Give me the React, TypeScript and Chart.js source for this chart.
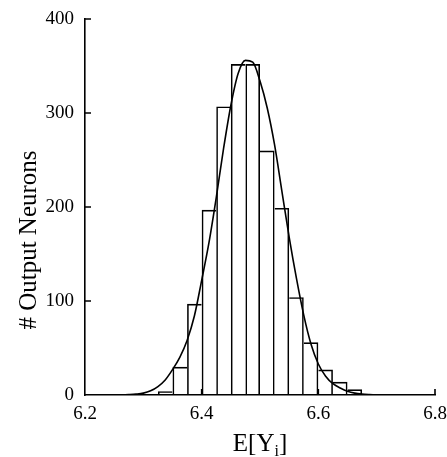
import React, { useEffect, useRef } from "react";
import { Chart, registerables } from "chart.js";

Chart.register(...registerables);

// Histogram bins (left edges, width 0.025) and counts
const binWidth = 0.025;
const binEdges = [6.325, 6.35, 6.375, 6.4, 6.425, 6.45, 6.475, 6.5, 6.525, 6.55, 6.575, 6.6, 6.625, 6.65, 6.675, 6.7, 6.725];
const binCounts = [4, 30, 97, 197, 307, 352, 352, 260, 199, 104, 56, 27, 14, 6, 0, 1, 1];

// Fitted curve
const curveX = [6.2, 6.2125, 6.225, 6.2375, 6.25, 6.2625, 6.275, 6.2875, 6.3, 6.3125, 6.325, 6.3375, 6.35, 6.3625, 6.375, 6.3875, 6.4, 6.4125, 6.425, 6.4375, 6.45, 6.4625, 6.475, 6.4875, 6.5, 6.5125, 6.525, 6.5375, 6.55, 6.5625, 6.575, 6.5875, 6.6, 6.6125, 6.625, 6.6375, 6.65, 6.6625, 6.675, 6.6875, 6.7, 6.725, 6.75];
const curveY = [0, 0, 0, 0, 0.1, 0.2, 0.5, 1, 2, 4.5, 9, 16, 27, 40, 58, 84, 122, 162, 210, 262, 308, 342, 356, 354, 334, 305, 266, 217, 168, 124, 85, 54, 33, 20, 12, 7.5, 4, 2, 1, 0.5, 0.2, 0, 0];

const xTicks = [6.2, 6.4, 6.6, 6.8];
const yTicks = [0, 100, 200, 300, 400];

const yTitle = "# Output Neurons";
const xTitleMain = "E[Y";
const xTitleSub = "i";
const xTitleEnd = "]";

const FONT = "'Liberation Serif', 'Times New Roman', serif";
const LW = 1.6;

export default function App() {
  const ref = useRef<HTMLCanvasElement | null>(null);

  useEffect(() => {
    if (!ref.current) return;

    const decor = {
      id: "decor",
      afterDraw(chart: any) {
        const ctx = chart.ctx;
        const xs = chart.scales.x;
        const ys = chart.scales.y;
        const area = chart.chartArea;
        ctx.save();
        ctx.strokeStyle = "#000";
        ctx.lineWidth = LW;
        ctx.beginPath();
        yTicks.forEach((v) => {
          if (v === 0) return;
          const py = ys.getPixelForValue(v);
          ctx.moveTo(area.left, py);
          ctx.lineTo(area.left + 6, py);
        });
        xTicks.forEach((v) => {
          if (v === xTicks[0]) return;
          const px = xs.getPixelForValue(v);
          ctx.moveTo(px, area.bottom);
          ctx.lineTo(px, area.bottom - 6);
        });
        ctx.stroke();

        ctx.fillStyle = "#000";
        ctx.font = `25px ${FONT}`;
        ctx.textAlign = "center";
        ctx.textBaseline = "middle";
        ctx.save();
        ctx.translate(29, 240);
        ctx.rotate(-Math.PI / 2);
        ctx.fillText(yTitle, 0, 0);
        ctx.restore();

        ctx.textAlign = "left";
        ctx.textBaseline = "alphabetic";
        ctx.font = `25px ${FONT}`;
        const w1 = ctx.measureText(xTitleMain).width;
        const w3 = ctx.measureText(xTitleEnd).width;
        ctx.font = `16px ${FONT}`;
        const w2 = ctx.measureText(xTitleSub).width;
        const total = w1 + w2 + w3;
        const cx = (area.left + area.right) / 2;
        const x0 = cx - total / 2;
        const base = 451;
        ctx.font = `25px ${FONT}`;
        ctx.fillText(xTitleMain, x0, base);
        ctx.font = `16px ${FONT}`;
        ctx.fillText(xTitleSub, x0 + w1, base + 5);
        ctx.font = `25px ${FONT}`;
        ctx.fillText(xTitleEnd, x0 + w1 + w2, base);
        ctx.restore();
      },
    };

    const barData = binEdges.map((e, i) => ({ x: e + binWidth / 2, y: binCounts[i] }));
    const lineData = curveX.map((x, i) => ({ x, y: curveY[i] }));

    const chart = new Chart(ref.current, {
      type: "bar",
      data: {
        datasets: [
          {
            type: "line",
            data: lineData,
            borderColor: "#000",
            borderWidth: LW,
            pointRadius: 0,
            cubicInterpolationMode: "monotone",
            fill: false,
            order: 0,
          } as any,
          {
            type: "bar",
            data: barData,
            backgroundColor: "rgba(255,255,255,0)",
            borderColor: "#000",
            borderWidth: (c: any) => {
              const i = c.dataIndex;
              const h = binCounts[i];
              const prev = i > 0 ? binCounts[i - 1] : -1;
              const next = i < binCounts.length - 1 ? binCounts[i + 1] : -1;
              return {
                top: LW,
                left: h >= prev ? LW : 0,
                right: h > next ? LW : 0,
                bottom: 0,
              };
            },
            borderSkipped: "start",
            barPercentage: 1,
            categoryPercentage: 1,
            inflateAmount: 0,
            order: 1,
          } as any,
        ],
      },
      options: {
        responsive: false,
        animation: false,
        layout: { padding: { top: 19, right: 12, left: 0, bottom: 0 } },
        plugins: { legend: { display: false }, tooltip: { enabled: false } },
        scales: {
          x: {
            type: "linear",
            min: 6.2,
            max: 6.8,
            offset: false,
            afterFit: (s: any) => {
              s.height = 62;
              s.paddingLeft = 0;
              s.paddingRight = 0;
            },
            afterBuildTicks: (s: any) => {
              s.ticks = xTicks.map((v) => ({ value: v }));
            },
            grid: { display: false, drawTicks: false },
            border: { display: true, color: "#000", width: LW },
            ticks: {
              color: "#000",
              padding: 8,
              maxRotation: 0,
              font: { family: FONT, size: 19 },
              callback: (v: any) => Number(v).toFixed(1),
            },
          },
          y: {
            type: "linear",
            min: 0,
            max: 400,
            afterFit: (s: any) => {
              s.width = 85;
              s.paddingTop = 0;
              s.paddingBottom = 0;
            },
            afterBuildTicks: (s: any) => {
              s.ticks = yTicks.map((v) => ({ value: v }));
            },
            grid: { display: false, drawTicks: false },
            border: { display: true, color: "#000", width: LW },
            ticks: {
              color: "#000",
              padding: 11,
              font: { family: FONT, size: 19 },
              callback: (v: any) => String(v),
            },
          },
        },
      },
      plugins: [decor],
    });

    return () => chart.destroy();
  }, []);

  return (
    <div style={{ position: "fixed", left: 0, top: 0, width: 447, height: 457, background: "#fff" }}>
      <canvas ref={ref} width={447} height={457} />
    </div>
  );
}
